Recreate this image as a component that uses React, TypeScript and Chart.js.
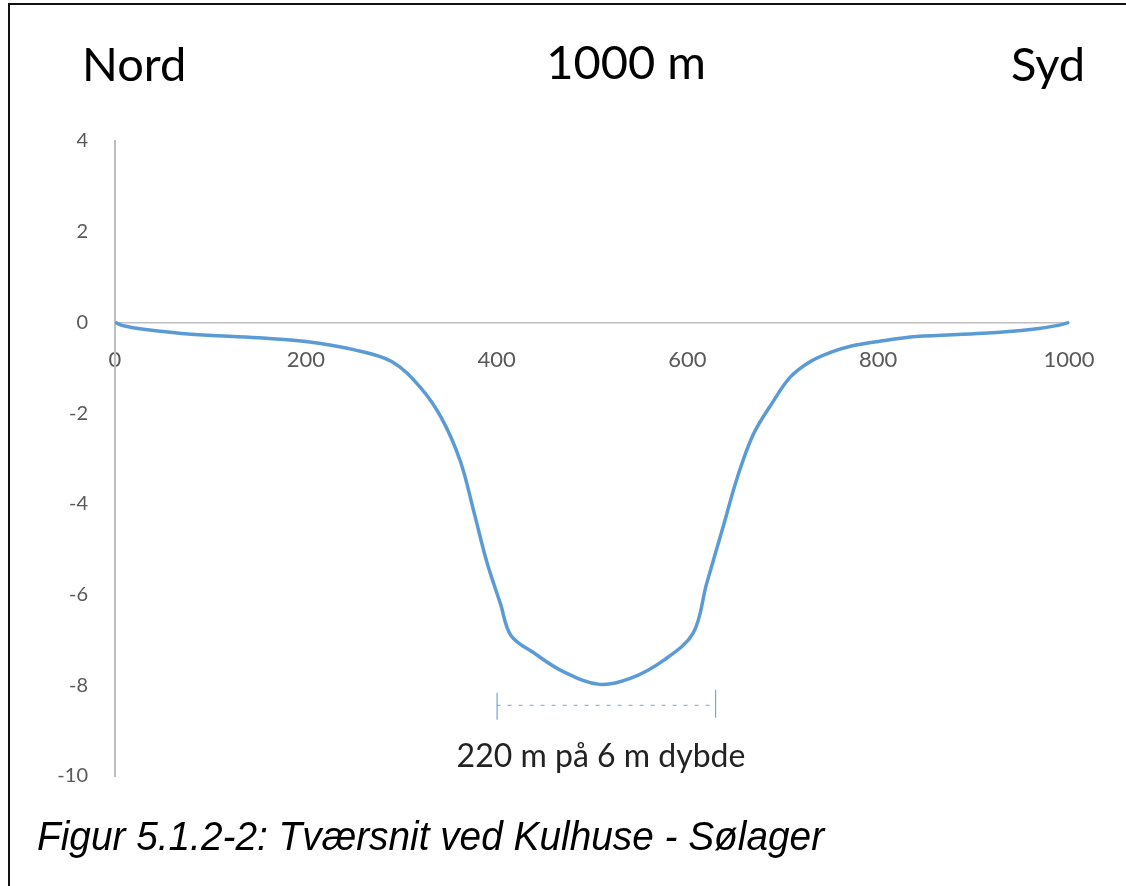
import React, { useEffect, useRef } from "react";
import { Chart, registerables } from "chart.js";

Chart.register(...registerables);

// Cross-section profile: distance (m) and depth (m)
const distances = [0, 10, 30, 80, 150, 200, 250, 290, 320, 342, 362, 376, 390, 404, 415, 440, 470, 508, 540, 575, 606, 620, 637, 652, 669, 690, 708, 729, 750, 770, 800, 840, 910, 962, 990, 1000];
const depths = [0, -0.08, -0.15, -0.26, -0.34, -0.42, -0.6, -0.86, -1.43, -2.1, -3.06, -4.16, -5.3, -6.2, -6.9, -7.3, -7.7, -7.98, -7.85, -7.45, -6.85, -5.77, -4.54, -3.44, -2.47, -1.74, -1.2, -0.86, -0.66, -0.53, -0.42, -0.31, -0.24, -0.15, -0.06, 0];

const xTicks = [0, 200, 400, 600, 800, 1000];
const yTicks = [4, 2, 0, -2, -4, -6, -8, -10];

// Width marker at 6 m depth
const markerStart = 400;
const markerEnd = 629;
const markerDepth = -8.43;

const titleLeft = "Nord";
const titleCenter = "1000 m";
const titleRight = "Syd";
const markerLabel = "220 m på 6 m dybde";
const caption = "Figur 5.1.2-2: Tværsnit ved Kulhuse - Sølager";

const markerPlugin = {
  id: "markerPlugin",
  afterDatasetsDraw(chart: any) {
    const { ctx, scales } = chart;
    const xs = scales.x;
    const ys = scales.y;
    const x1 = xs.getPixelForValue(markerStart);
    const x2 = xs.getPixelForValue(markerEnd);
    const y = ys.getPixelForValue(markerDepth);
    ctx.save();
    ctx.strokeStyle = "#6FA8DC";
    ctx.lineWidth = 1;
    ctx.setLineDash([4, 7]);
    ctx.beginPath();
    ctx.moveTo(x1, y + 0.5);
    ctx.lineTo(x2, y + 0.5);
    ctx.stroke();
    ctx.setLineDash([]);
    ctx.lineWidth = 1.2;
    ctx.beginPath();
    ctx.moveTo(x1 + 0.5, y - 12);
    ctx.lineTo(x1 + 0.5, y + 15);
    ctx.moveTo(x2 + 0.5, y - 15);
    ctx.lineTo(x2 + 0.5, y + 13);
    ctx.stroke();
    ctx.restore();
  },
};

export default function App() {
  const canvasRef = useRef<HTMLCanvasElement | null>(null);

  useEffect(() => {
    if (!canvasRef.current) return;
    const chart = new Chart(canvasRef.current, {
      type: "line",
      data: {
        datasets: [
          {
            data: distances.map((d, i) => ({ x: d, y: depths[i] })),
            borderColor: "#5B9BD5",
            borderWidth: 3.5,
            pointRadius: 0,
            fill: false,
            tension: 0.35,
          },
        ],
      },
      options: {
        animation: false,
        responsive: false,
        maintainAspectRatio: false,
        layout: { padding: { left: 15, right: 57, top: 141, bottom: 110 } },
        plugins: { legend: { display: false }, tooltip: { enabled: false }, title: { display: false } },
        scales: {
          x: {
            type: "linear",
            min: 0,
            max: 1000,
            position: { y: 0 } as any,
            afterBuildTicks: (scale: any) => {
              scale.ticks = xTicks.map((v) => ({ value: v }));
            },
            grid: { display: true, color: "rgba(0,0,0,0)", drawTicks: false },
            border: { display: true, color: "#BFBFBF", width: 1.5 },
            ticks: {
              padding: 24,
              color: "#595959",
              font: { family: "Lato", size: 22 },
              maxRotation: 0,
              autoSkip: false,
              callback: (v: any) => String(v),
            },
          },
          y: {
            type: "linear",
            min: -10,
            max: 4,
            afterBuildTicks: (scale: any) => {
              scale.ticks = yTicks.map((v) => ({ value: v }));
            },
            afterFit: (scale: any) => {
              scale.width = 100;
            },
            grid: { display: true, color: "rgba(0,0,0,0)", drawTicks: false },
            border: { display: true, color: "#BFBFBF", width: 2 },
            ticks: {
              padding: 27,
              color: "#595959",
              font: { family: "Lato", size: 20 },
              autoSkip: false,
              callback: (v: any) => String(v),
            },
          },
        },
      },
      plugins: [markerPlugin],
    });
    return () => chart.destroy();
  }, []);

  const big: React.CSSProperties = {
    position: "absolute",
    fontFamily: "Lato",
    fontSize: 47,
    lineHeight: 1,
    color: "#000",
    whiteSpace: "nowrap",
    margin: 0,
  };

  return (
    <div style={{ position: "absolute", left: 0, top: 0, width: 1126, height: 886, background: "#fff", overflow: "hidden" }}>
      <div style={{ position: "absolute", left: 8, top: 3, right: -10, bottom: -10, borderLeft: "2px solid #111", borderTop: "2px solid #111" }} />
      <canvas ref={canvasRef} width={1126} height={886} style={{ position: "absolute", left: 0, top: 0, width: 1126, height: 886 }} />
      <div style={{ ...big, left: 82, top: 40 }}>{titleLeft}</div>
      <div style={{ ...big, left: 626, top: 38, transform: "translateX(-50%)" }}>{titleCenter}</div>
      <div style={{ ...big, left: 1011, top: 40 }}>{titleRight}</div>
      <div style={{ position: "absolute", left: 601, top: 739, transform: "translateX(-50%)", fontFamily: "Lato", fontSize: 32, lineHeight: 1, color: "#222", whiteSpace: "nowrap" }}>{markerLabel}</div>
      <div style={{ position: "absolute", left: 37, top: 816, fontFamily: "'Liberation Sans', Arial, sans-serif", fontStyle: "italic", fontSize: 40, lineHeight: 1, color: "#000", whiteSpace: "nowrap", transform: "scaleX(0.97)", transformOrigin: "left top" }}>{caption}</div>
    </div>
  );
}
